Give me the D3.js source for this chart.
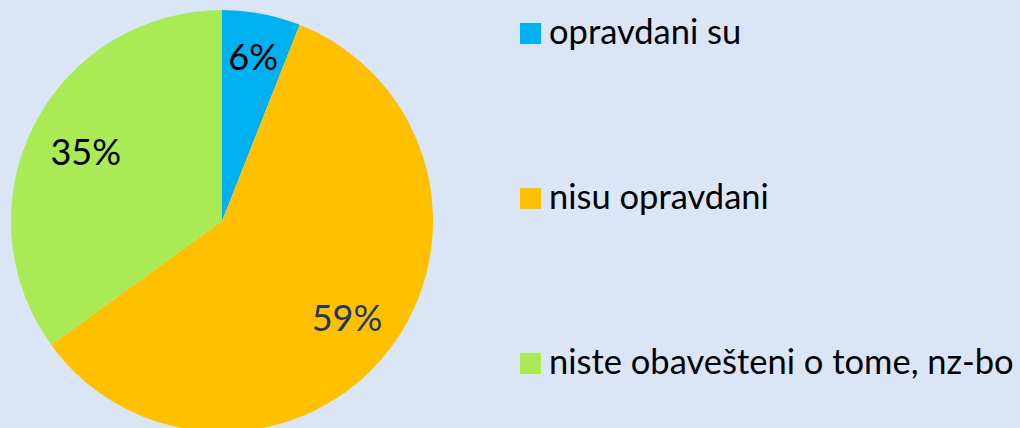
<!DOCTYPE html>
<html>
<head>
<meta charset="utf-8">
<script src="https://cdn.jsdelivr.net/npm/d3@7"></script>
<style>
  html, body { margin: 0; padding: 0; background: #dae6f5; }
  svg { display: block; }
</style>
</head>
<body>
<div id="chart"></div>
<script>
// chart data
const categories = ["opravdani su", "nisu opravdani", "niste obavešteni o tome, nz-bo"];
const values = [6, 59, 35];
const sliceColors = ["#00b0f0", "#ffc000", "#a9ea55"];
const labelColors = ["#000000", "#1f3864", "#000000"];
// how far out each percent label sits, as share of the radius
const labelRadius = [0.79, 0.75, 0.725];

const width = 1020, height = 428;
const cx = 222, cy = 221, radius = 211;

const svg = d3.select("#chart").append("svg")
    .attr("width", width)
    .attr("height", height);

svg.append("rect")
    .attr("width", width)
    .attr("height", height)
    .attr("fill", "#dae6f5");

const pie = d3.pie().sort(null).value(d => d);
const arcs = pie(values);

const arc = d3.arc().innerRadius(0).outerRadius(radius);

const g = svg.append("g").attr("transform", `translate(${cx},${cy})`);

g.selectAll("path")
    .data(arcs)
    .enter().append("path")
    .attr("d", arc)
    .attr("fill", (d, i) => sliceColors[i]);

// percent labels
function labelPos(d, i) {
    const r = radius * labelRadius[i];
    return d3.arc().innerRadius(r).outerRadius(r).centroid(d);
}

g.selectAll("text")
    .data(arcs)
    .enter().append("text")
    .attr("x", (d, i) => labelPos(d, i)[0])
    .attr("y", (d, i) => labelPos(d, i)[1] + 13)
    .attr("text-anchor", "middle")
    .attr("font-family", "Lato, 'Open Sans', sans-serif")
    .attr("font-size", 36)
    .attr("fill", (d, i) => labelColors[i])
    .text(d => d.data + "%");

// legend
const legendY = d3.scalePoint().domain(categories).range([33, 363]);

const legend = svg.append("g")
    .selectAll("g")
    .data(categories)
    .enter().append("g")
    .attr("transform", d => `translate(520,${legendY(d)})`);

legend.append("rect")
    .attr("x", 0)
    .attr("y", -10)
    .attr("width", 21)
    .attr("height", 21)
    .attr("fill", (d, i) => sliceColors[i]);

legend.append("text")
    .attr("x", 29)
    .attr("y", 11)
    .attr("font-family", "Lato, 'Open Sans', sans-serif")
    .attr("font-size", 34.5)
    .attr("fill", "#000")
    .text(d => d);
</script>
</body>
</html>
